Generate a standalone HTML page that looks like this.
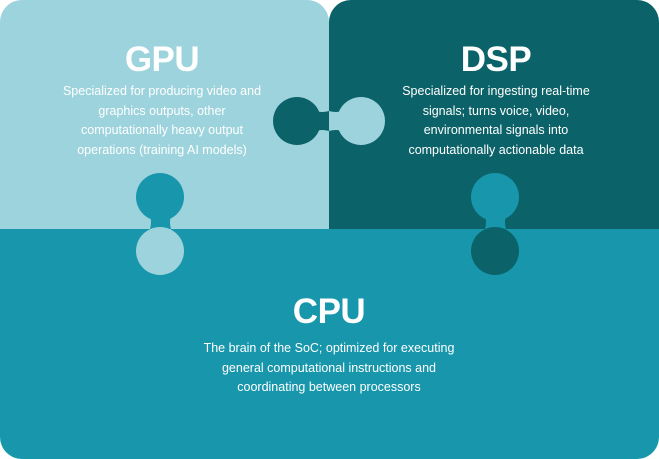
<!DOCTYPE html>
<html><head><style>
body{margin:0;width:659px;height:459px;overflow:hidden;background:#fff}
svg{position:absolute;left:0;top:0}
.t{position:absolute;color:#fff;font-family:"Liberation Sans",sans-serif;text-align:center}
.h{font-size:35px;font-weight:bold;letter-spacing:-0.5px}
.b{font-size:12.5px;line-height:19.5px}
</style></head><body>
<svg width="659" height="459">
<defs><clipPath id="c"><rect x="0" y="0" width="659" height="459" rx="22"/></clipPath></defs>
<g clip-path="url(#c)">
<path d="M0 0 H307 A22 22 0 0 1 329 22 V229 H0 Z" fill="#9dd3dd"/>
<path d="M351 0 H659 V229 H329 V22 A22 22 0 0 1 351 0 Z" fill="#0b6268"/>
<rect x="0" y="229" width="659" height="230" fill="#1896ab"/>
<circle cx="160" cy="197" r="24" fill="#1896ab"/>
<path d="M150 215 Q152 222 150 229 L171 229 Q169 222 171 215 Z" fill="#1896ab"/>
<circle cx="160" cy="251" r="24" fill="#9dd3dd"/>
<path d="M150 229 Q152 236 150 243 L171 243 Q169 236 171 229 Z" fill="#9dd3dd"/>
<circle cx="495" cy="197" r="24" fill="#1896ab"/>
<path d="M485 215 Q487 222 485 229 L506 229 Q504 222 506 215 Z" fill="#1896ab"/>
<circle cx="495" cy="251" r="24" fill="#0b6268"/>
<path d="M485 229 Q487 236 485 243 L506 243 Q504 236 506 229 Z" fill="#0b6268"/>
<circle cx="297" cy="121" r="24" fill="#0b6268"/>
<path d="M315 111 Q322 113 329 111 L329 131 Q322 129 315 131 Z" fill="#0b6268"/>
<circle cx="361" cy="121" r="24" fill="#9dd3dd"/>
<path d="M329 111 Q336 113 343 111 L343 131 Q336 129 329 131 Z" fill="#9dd3dd"/>
</g>
</svg>
<div class="t h" style="left:12px;width:300px;top:40px">GPU</div>
<div class="t b" style="left:12px;width:300px;top:82px">Specialized for producing video and<br>graphics outputs, other<br>computationally heavy output<br>operations (training AI models)</div>
<div class="t h" style="left:346px;width:300px;top:40px">DSP</div>
<div class="t b" style="left:346px;width:300px;top:82px">Specialized for ingesting real-time<br>signals; turns voice, video,<br>environmental signals into<br>computationally actionable data</div>
<div class="t h" style="left:179px;width:300px;top:292px">CPU</div>
<div class="t b" style="left:129px;width:400px;top:339px">The brain of the SoC; optimized for executing<br>general computational instructions and<br>coordinating between processors</div>
</body></html>
